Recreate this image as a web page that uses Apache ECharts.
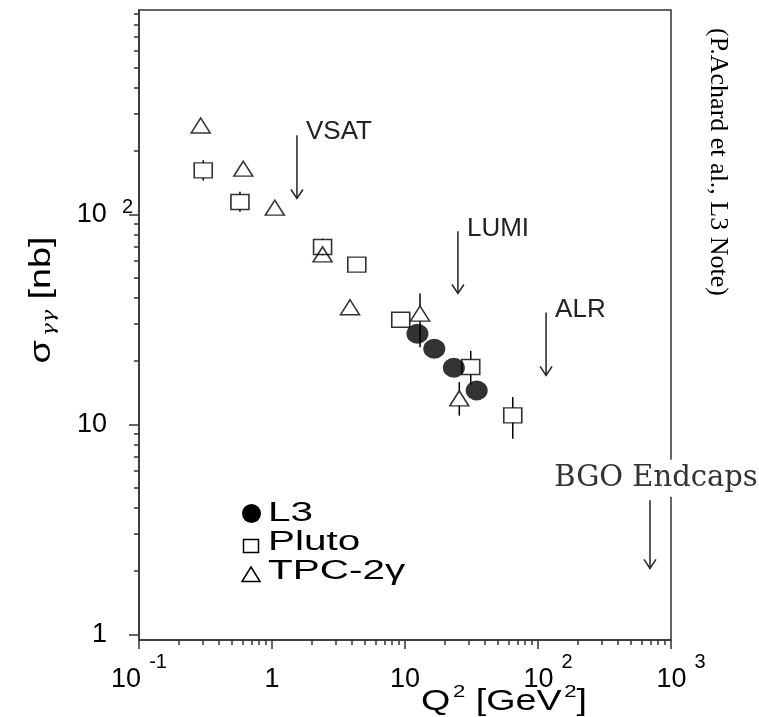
<!DOCTYPE html>
<html>
<head>
<meta charset="utf-8">
<script src="https://cdn.jsdelivr.net/npm/echarts@6/dist/echarts.min.js"></script>
<style>
html, body { margin: 0; padding: 0; background: #fff; }
#chart { width: 759px; height: 717px; }
</style>
</head>
<body>
<div id="chart"></div>
<script>
// L3 (filled circles)
const l3Q2    = [12.4, 16.6, 23.3, 34.6];
const l3Sigma = [27.0, 22.9, 18.6, 14.5];

// Pluto (open squares)
const plutoQ2    = [0.304, 0.574, 2.40, 4.34, 9.29, 31.2, 64.6];
const plutoSigma = [162, 114.5, 69.9, 57.6, 31.5, 18.75, 11.04];
const plutoLow   = [145, 103, 63.7, null, null, 15.5, 8.55];
const plutoHigh  = [181, 128, 76.7, null, null, 22.4, 13.5];

// TPC-2gamma (open triangles)
const tpcQ2    = [0.291, 0.608, 1.05, 2.40, 3.86, 12.97, 25.6];
const tpcSigma = [265, 165, 107.6, 64.5, 36.1, 33.7, 13.3];
const tpcLow   = [null, null, null, null, null, 23.3, 11.0];
const tpcHigh  = [null, null, null, null, null, 42, 15.9];

// detector acceptance arrows
const arrowNames = ['VSAT', 'LUMI', 'ALR', 'BGO Endcaps'];
const arrowQ2    = [1.54, 25, 115, 695];
const arrowFrom  = [238, 83, 34.1, 4.35];
const arrowTo    = [119, 42, 17.1, 2.06];

// axis ticks
const xMajor = [0.1, 1, 10, 100, 1000];
const xLabelBase = ['10', '1', '10', '10', '10'];
const xLabelExp  = ['-1', '', '', '2', '3'];
const yMajor = [1, 10, 100];
const yLabelBase = ['1', '10', '10'];
const yLabelExp  = ['', '', '2'];
const minorSteps = [2, 3, 4, 5, 6, 7, 8, 9];

const legendNames = ['L3', 'Pluto', 'TPC-2γ'];

function minors(decades) {
    let out = [];
    decades.forEach(d => minorSteps.forEach(s => out.push(d * s)));
    return out;
}
const xMinor = minors([0.1, 1, 10, 100]);
const yMinor = minors([1, 10, 100]);

function labelIndex(arr, v) {
    let best = 0;
    arr.forEach((a, i) => { if (Math.abs(Math.log10(a) - Math.log10(v)) < Math.abs(Math.log10(arr[best]) - Math.log10(v))) best = i; });
    return best;
}

const ink = '#222';
const sansFont = 'Liberation Sans';

function pairs(xs, ys) {
    return xs.map((x, i) => [x, ys[i]]);
}
function errData(xs, ys, lo, hi) {
    let out = [];
    xs.forEach((x, i) => {
        if (lo[i] != null || hi[i] != null) out.push([x, ys[i], lo[i], hi[i]]);
    });
    return out;
}

function errRender(halfH) {
    return function (params, api) {
        const x = api.value(0), y = api.value(1), lo = api.value(2), hi = api.value(3);
        const c = api.coord([x, y]);
        const children = [];
        const st = { stroke: '#000', lineWidth: 1.5 };
        if (!isNaN(hi)) {
            const p = api.coord([x, hi]);
            if (p[1] < c[1] - halfH) children.push({ type: 'line', shape: { x1: c[0], y1: p[1], x2: c[0], y2: c[1] - halfH }, style: st });
        }
        if (!isNaN(lo)) {
            const p = api.coord([x, lo]);
            if (p[1] > c[1] + halfH) children.push({ type: 'line', shape: { x1: c[0], y1: c[1] + halfH, x2: c[0], y2: p[1] }, style: st });
        }
        return { type: 'group', children: children };
    };
}

function arrowRender(params, api) {
    const i = api.value(3);
    const top = api.coord([api.value(0), api.value(1)]);
    const bot = api.coord([api.value(0), api.value(2)]);
    const st = { stroke: ink, lineWidth: 1.5, fill: null };
    const children = [
        { type: 'line', shape: { x1: top[0], y1: top[1], x2: bot[0], y2: bot[1] }, style: st },
        { type: 'polyline', shape: { points: [[bot[0] - 6, bot[1] - 9], [bot[0], bot[1]], [bot[0] + 6, bot[1] - 9]] }, style: st }
    ];
    if (i === 3) {
        children.push({
            type: 'text', x: top[0] + 6, y: top[1] - 22,
            style: { text: arrowNames[i], font: '29px "DejaVu Serif"', fill: '#333', align: 'center', verticalAlign: 'middle', backgroundColor: '#fff', padding: [4, 0, 4, 0] }
        });
    } else {
        children.push({
            type: 'text', x: top[0] + 9, y: top[1] - 3,
            style: { text: arrowNames[i], font: '26px "Liberation Sans"', fill: ink, align: 'left', verticalAlign: 'middle' }
        });
    }
    return { type: 'group', children: children };
}

const chart = echarts.init(document.getElementById('chart'));

const xRich = {
    b:  { fontSize: 27, fontFamily: sansFont, color: '#000' },
    bp: { fontSize: 27, fontFamily: sansFont, color: '#000', padding: [0, 0, 0, 20] },
    p:  { fontSize: 27, fontFamily: sansFont, color: '#000', padding: [14, 0, 0, 0] },
    s:  { fontSize: 20, fontFamily: sansFont, color: '#000', padding: [0, 0, 36, 8] }
};
const yRich = {
    b: { fontSize: 27, fontFamily: sansFont, color: '#000' },
    p: { fontSize: 27, fontFamily: sansFont, color: '#000', padding: [0, 26, 0, 0] },
    s: { fontSize: 20, fontFamily: sansFont, color: '#000', padding: [0, 0, 14, 15] }
};

const axisLine = { show: true, lineStyle: { color: '#333', width: 1.5 } };

// hand-drawn key, the original one uses horizontally stretched lettering
const keyStroke = { stroke: '#000', lineWidth: 1.5, fill: 'transparent' };
const keyText = (name, y) => ({
    type: 'text', x: 268, y: y, scaleX: 1.5,
    style: { text: name, font: '27px "Liberation Sans"', fill: '#000', align: 'left', verticalAlign: 'middle' }
});
const legendGroup = {
    type: 'group', left: 0, top: 0,
    children: [
        { type: 'rect', shape: { x: 0, y: 0, width: 1, height: 1 }, style: { fill: 'transparent' }, silent: true },
        { type: 'circle', shape: { cx: 251.5, cy: 513.5, r: 9.5 }, style: { fill: '#000' } },
        keyText(legendNames[0], 514),
        { type: 'rect', shape: { x: 243.5, y: 539.5, width: 15, height: 13 }, style: keyStroke },
        keyText(legendNames[1], 543),
        { type: 'polygon', shape: { points: [[242, 581.5], [260, 581.5], [251, 567]] }, style: keyStroke },
        keyText(legendNames[2], 571.5)
    ]
};

const option = {
    animation: false,
    backgroundColor: '#fff',
    grid: { left: 139, right: 88, top: 10, bottom: 77, show: true, borderColor: '#333', borderWidth: 1.5, backgroundColor: 'transparent', outerBoundsMode: 'none' },
    xAxis: [
        {
            type: 'log', logBase: 10, min: 0.09999, max: 1000.01, position: 'bottom',
            axisLine: axisLine,
            splitLine: { show: false },
            axisTick: { show: true, inside: false, length: 9, customValues: xMajor, lineStyle: { color: '#333', width: 1.5 } },
            axisLabel: {
                show: true, margin: 12, customValues: xMajor, rich: xRich,
                formatter: v => {
                    const i = labelIndex(xMajor, v);
                    if (!xLabelExp[i]) return '{p|' + xLabelBase[i] + '}';
                    return (i === 0 ? '{b|' : '{bp|') + xLabelBase[i] + '}{s|' + xLabelExp[i] + '}';
                }
            }
        },
        {
            type: 'log', logBase: 10, min: 0.09999, max: 1000.01, position: 'bottom', offset: 0,
            axisLine: { show: false },
            splitLine: { show: false },
            axisTick: { show: true, inside: false, length: 5, customValues: xMinor, lineStyle: { color: '#333', width: 1.5 } },
            axisLabel: { show: false }
        }
    ],
    yAxis: [
        {
            type: 'log', logBase: 10, min: 0.94, max: 940, position: 'left',
            axisLine: axisLine,
            splitLine: { show: false },
            axisTick: { show: true, inside: false, length: 10, customValues: yMajor, lineStyle: { color: '#333', width: 1.5 } },
            axisLabel: {
                show: true, margin: 6, customValues: yMajor, rich: yRich,
                formatter: v => {
                    const i = labelIndex(yMajor, v);
                    if (!yLabelExp[i]) return '{p|' + yLabelBase[i] + '}';
                    return '{b|' + yLabelBase[i] + '}{s|' + yLabelExp[i] + '}';
                }
            }
        },
        {
            type: 'log', logBase: 10, min: 0.94, max: 940, position: 'left', offset: 0,
            axisLine: { show: false },
            splitLine: { show: false },
            axisTick: { show: true, inside: false, length: 5, customValues: yMinor, lineStyle: { color: '#333', width: 1.5 } },
            axisLabel: { show: false }
        }
    ],
    graphic: [
        legendGroup,
        {
            type: 'text', x: 42, y: 300, rotation: Math.PI / 2, scaleX: 1.3,
            style: {
                text: '{a|σ}{g|γγ}{a| [nb]}',
                align: 'center', verticalAlign: 'middle',
                rich: {
                    a: { fontSize: 29, fontFamily: sansFont, color: '#000' },
                    g: { fontSize: 17, fontFamily: 'DejaVu Serif', fontStyle: 'italic', color: '#000', padding: [16, 0, 0, 3] }
                }
            }
        },
        {
            type: 'text', x: 421, y: 702, scaleX: 1.3,
            style: {
                text: '{a|Q}{s|2}{a| [GeV}{s|2}{a|]}',
                align: 'left', verticalAlign: 'middle',
                rich: {
                    a: { fontSize: 29, fontFamily: sansFont, color: '#000' },
                    s: { fontSize: 17, fontFamily: sansFont, color: '#000', padding: [0, 0, 20, 2] }
                }
            }
        },
        {
            type: 'text', x: 718, y: 162, rotation: -Math.PI / 2,
            style: { text: '(P.Achard et al., L3 Note)', font: '26px "Liberation Serif"', fill: '#000', align: 'center', verticalAlign: 'middle' }
        }
    ],
    series: [
        {
            name: 'Pluto', type: 'scatter', xAxisIndex: 0, yAxisIndex: 0,
            symbol: 'rect', symbolSize: [18, 15],
            itemStyle: { color: 'transparent', borderColor: '#000', borderWidth: 1.5 },
            emphasis: { disabled: true },
            data: pairs(plutoQ2, plutoSigma), z: 3
        },
        {
            name: 'TPC-2γ', type: 'scatter', xAxisIndex: 0, yAxisIndex: 0,
            symbol: 'triangle', symbolSize: [19, 15],
            itemStyle: { color: 'transparent', borderColor: '#000', borderWidth: 1.5 },
            emphasis: { disabled: true },
            data: pairs(tpcQ2, tpcSigma), z: 3
        },
        {
            name: 'Pluto errors', type: 'custom', xAxisIndex: 0, yAxisIndex: 0,
            renderItem: errRender(7.5), encode: { x: 0, y: 1 }, silent: true,
            data: errData(plutoQ2, plutoSigma, plutoLow, plutoHigh), z: 3
        },
        {
            name: 'TPC errors', type: 'custom', xAxisIndex: 0, yAxisIndex: 0,
            renderItem: errRender(7.5), encode: { x: 0, y: 1 }, silent: true,
            data: errData(tpcQ2, tpcSigma, tpcLow, tpcHigh), z: 3
        },
        {
            name: 'L3', type: 'scatter', xAxisIndex: 0, yAxisIndex: 0,
            symbol: 'circle', symbolSize: [22, 20],
            itemStyle: { color: '#000', borderWidth: 0 },
            emphasis: { disabled: true },
            data: pairs(l3Q2, l3Sigma), z: 4
        },
        {
            name: 'arrows', type: 'custom', xAxisIndex: 0, yAxisIndex: 0,
            renderItem: arrowRender, encode: { x: 0, y: [1, 2] }, silent: true, clip: false,
            data: arrowQ2.map((x, i) => [x, arrowFrom[i], arrowTo[i], i]), z: 5
        }
    ]
};

chart.setOption(option);
</script>
</body>
</html>
